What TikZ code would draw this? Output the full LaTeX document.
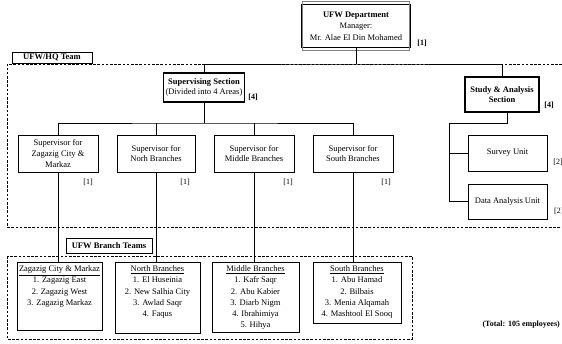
\documentclass[tikz,border=0pt]{standalone}
\usepackage{fontspec}
\setmainfont{Liberation Serif}
\begin{document}
\begin{tikzpicture}[x=1pt,y=-1pt,
  every node/.style={font=\fontsize{8.5}{10.6}\selectfont, inner sep=1pt},
  box/.style={draw, line width=1pt, align=center},
  thickbox/.style={draw, line width=1.8pt, align=center},
  tagbox/.style={draw, line width=0.8pt, font=\fontsize{8.5}{10.6}\selectfont\bfseries, inner sep=0pt},
  lbl/.style={font=\fontsize{8}{10}\selectfont},
  blbl/.style={font=\fontsize{8}{10}\selectfont\bfseries},
  conn/.style={line width=0.7pt},
  teamline/.style={dash pattern=on 2.6pt off 1.6pt, line width=0.7pt},
  list/.style={align=center, inner sep=0pt, font=\fontsize{8.5}{11.2}\selectfont}]
\useasboundingbox (0,0) rectangle (562,343);

% dashed team boxes
\draw[teamline] (562,64) -- (7,64) -- (7,227) -- (562,227);
\draw[teamline] (7,256) rectangle (412,339);

% department
\node[draw, line width=1.6pt, align=center, minimum width=109, minimum height=43,
      font=\fontsize{8.5}{11.6}\selectfont] (dept) at (356,26)
  {\textbf{UFW Department}\\Manager:\\Mr. Alae El Din Mohamed};
\draw[line width=0.5pt, gray] ([shift={(2,-2)}]dept.north west) rectangle ([shift={(-2,2)}]dept.south east);
\node[blbl] (l0) at (422,43) {[1]};

% tags
\node[tagbox, minimum width=80, minimum height=11] (hq) at (52,57.5) {UFW/HQ Team};
\node[tagbox, minimum width=86, minimum height=15] (bt) at (109,245.5) {UFW Branch Teams};

% sections
\node[thickbox, minimum width=81, minimum height=29] (sup) at (204,87.5)
  {\textbf{Supervising Section}\\(Divided into 4 Areas)};
\node[blbl] (l4a) at (253,97) {[4]};
\node[thickbox, line width=1.3pt, minimum width=74, minimum height=35] (study) at (502,94.5)
  {\textbf{Study \& Analysis}\\\textbf{Section}};
\node[blbl] (l4b) at (549,105) {[4]};

% supervisors
\node[box, minimum width=80, minimum height=37] (s1) at (58,153.5) {Supervisor for\\Zagazig City \&\\Markaz};
\node[box, minimum width=78, minimum height=37] (s2) at (156,153.5) {Supervisor for\\Norh Branches};
\node[box, minimum width=80, minimum height=37] (s3) at (254,153.5) {Supervisor for\\Middle Branches};
\node[box, minimum width=80, minimum height=37] (s4) at (353,153.5) {Supervisor for\\South Branches};
\node[lbl] (k1) at (88,182) {[1]};
\node[lbl] (k2) at (185,182) {[1]};
\node[lbl] (k3) at (288,182) {[1]};
\node[lbl] (k4) at (386,182) {[1]};

% units
\node[box, minimum width=79, minimum height=36] (su) at (507.5,153) {Survey Unit};
\node[box, minimum width=79, minimum height=35] (da) at (507.5,201.5) {Data Analysis Unit};
\node[lbl] (k5) at (558,162) {[2]};
\node[lbl, anchor=west] (k6) at (553,211) {[2]};

% branch boxes
\node[box, minimum width=85, minimum height=68] (b1) at (59.5,296) {};
\node[box, minimum width=85, minimum height=71] (b2) at (157.5,297.5) {};
\node[box, minimum width=87, minimum height=70] (b3) at (255.5,297) {};
\node[box, minimum width=88, minimum height=61] (b4) at (357,292.5) {};
\node[list, anchor=north] (t1) at ([yshift=-4]b1.north)
  {\underline{Zagazig City \& Markaz}\\1. Zagazig East\\2. Zagazig West\\3. Zagazig Markaz};
\node[list, anchor=north] (t2) at ([yshift=-4]b2.north)
  {\underline{North Branches}\\1. El Huseinia\\2. New Salhia City\\3. Awlad Saqr\\4. Faqus};
\node[list, anchor=north] (t3) at ([yshift=-4]b3.north)
  {\underline{Middle Branches}\\1. Kafr Saqr\\2. Abu Kabier\\3. Diarb Nigm\\4. Ibrahimiya\\5. Hihya};
\node[list, anchor=north] (t4) at ([yshift=-4]b4.north)
  {\underline{South Branches}\\1. Abu Hamad\\2. Bilbais\\3. Menia Alqamah\\4. Mashtool El Sooq};

\node[blbl, anchor=east] (tot) at (561,325) {(Total: 105 employees)};

% connectors
\coordinate (top) at (356,64);
\draw[conn] (dept.south) -- (top);
\draw[conn] (sup.north) |- (top) -| (study.north);
\coordinate (row) at (204,123);
\draw[conn] (sup.south) -- (row);
\draw[conn] (s1.north) |- (row) -| (s4.north);
\draw[conn] (s2.north) -- (s2.north |- row);
\draw[conn] (s3.north) -- (s3.north |- row);
\draw[conn] (s1.south) -- (s1.south |- b1.north);
\draw[conn] (s2.south) -- (s2.south |- b2.north);
\draw[conn] (s3.south) -- (s3.south |- b3.north);
\draw[conn] (s4.south) -- (s4.south |- b4.north);
\coordinate (sa) at (449,123);
\draw[conn] ([xshift=5]study.south) |- (sa) |- (da.west);
\draw[conn] (sa |- su.west) -- (su.west);
\end{tikzpicture}
\end{document}
